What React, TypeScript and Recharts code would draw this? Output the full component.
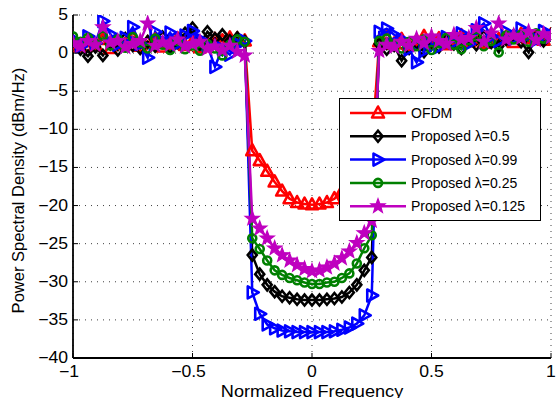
import React from 'react';
import { LineChart, Line, XAxis, YAxis, CartesianGrid } from 'recharts';

const FONT = '"Liberation Sans", Arial, Helvetica, sans-serif';

const xTicks = [-1, -0.5, 0, 0.5, 1];
const yTicks = [5, 0, -5, -10, -15, -20, -25, -30, -35, -40];

const freq = [
  -1, -0.96875, -0.9375, -0.90625, -0.875, -0.84375, -0.8125, -0.78125,
  -0.75, -0.71875, -0.6875, -0.65625, -0.625, -0.59375, -0.5625, -0.53125,
  -0.5, -0.46875, -0.4375, -0.40625, -0.375, -0.34375, -0.3125, -0.28125,
  -0.25, -0.21875, -0.1875, -0.15625, -0.125, -0.09375, -0.0625, -0.03125,
  0, 0.03125, 0.0625, 0.09375, 0.125, 0.15625, 0.1875, 0.21875, 0.25,
  0.28125, 0.3125, 0.34375, 0.375, 0.40625, 0.4375, 0.46875, 0.5,
  0.53125, 0.5625, 0.59375, 0.625, 0.65625, 0.6875, 0.71875, 0.75,
  0.78125, 0.8125, 0.84375, 0.875, 0.90625, 0.9375, 0.96875, 1,
];

const ofdm = [
  1.2, 0.8, 1.5, 1.0, 1.8, 0.6, 1.3, 1.1, 2.0, 0.9, 1.4, 1.7, 0.8, 1.2, 1.9, 1.0, 1.5, 0.7, 1.3, 1.8, 1.6, 2.0, 1.9, 1.6,
  -12.8, -14.1, -15.5, -16.9, -18.1, -19.1, -19.6, -19.8, -19.9, -19.8, -19.6, -19.1, -18.2, -17.0, -15.6, -14.1, -12.6,
  1.5, 2.0, 1.2, 1.8, 1.0, 1.6, 2.2, 1.4, 1.9, 1.1, 1.7, 2.3, 1.5, 2.0, 1.3, 2.4, 1.8, 2.1, 1.4, 2.5, 1.9, 2.2, 1.7, 2.4,
];

const prop05 = [
  1.6, 0.5, -0.4, 0.8, -0.3, 1.2, 0.4, 1.9, 1.0, 0.6, 1.5, 0.9, 2.1, 0.7, 1.4, 2.6, 3.3, 1.2, 2.8, 1.9, 2.4, 1.6, 2.0, 1.5,
  -26.5, -29.0, -30.4, -31.3, -31.9, -32.1, -32.3, -32.4, -32.4, -32.4, -32.3, -32.2, -32.0, -31.4, -30.4, -28.5, -26.8,
  1.2, 0.5, 1.0, -1.0, 0.6, 1.3, 0.2, 1.5, 0.8, 1.7, 1.2, 0.6, 1.9, 1.1, 2.2, 1.4, 0.9, 1.8, 2.3, 1.5, 0.1, 2.0, 1.6, 2.4,
];

const prop099 = [
  1.8, 0.9, 2.2, 1.3, 4.2, 2.5, 1.1, 2.0, 3.4, 1.2, -0.6, 2.8, 1.5, 2.7, 1.2, 2.3, 2.9, 1.8, 1.0, -1.8, 0.6, -0.2, 1.2, 1.6,
  -31.4, -34.2, -35.6, -36.1, -36.4, -36.5, -36.6, -36.6, -36.6, -36.6, -36.6, -36.5, -36.3, -36.0, -35.5, -34.4, -31.8,
  2.8, 3.2, 2.4, 1.8, 0.5, -1.2, 0.3, 1.5, 0.8, 2.1, 1.4, 2.6, 1.2, 3.0, 3.9, 2.2, 1.6, 2.8, 1.9, 3.2, 2.4, 1.7, 2.9, 2.2,
];

const prop025 = [
  2.2, 1.5, 2.0, 1.2, 2.3, 1.0, 1.8, 0.7, 2.1, 1.4, 0.6, 1.9, 1.1, 0.4, 1.6, 0.5, 1.0, 0.3, 1.2, 0.6, -0.3, 1.1, 1.8, 1.5,
  -24.3, -25.7, -27.2, -28.5, -29.1, -29.5, -29.8, -30.1, -30.3, -30.3, -30.1, -30.0, -29.5, -28.9, -27.6, -25.6, -23.9,
  1.6, 1.9, 1.2, 0.6, 1.5, 0.9, 1.8, 0.4, 1.3, 2.0, 1.1, 0.5, 1.7, 2.2, 0.9, 1.6, 0.1, 2.3, 1.8, 2.4, 1.5, 2.6, 1.9, 2.2,
];

const prop0125 = [
  1.3, 0.9, 1.6, 1.1, 3.4, 1.4, 1.6, 0.8, 1.2, 1.6, 3.9, 1.0, 1.4, 1.1, 1.8, 0.9, 1.2, 1.5, 0.6, 0.9, 0.4, 1.0, 0.2, -0.3,
  -21.7, -23.0, -24.3, -25.6, -26.5, -27.2, -27.8, -28.3, -28.6, -28.5, -28.1, -27.6, -26.9, -26.0, -24.9, -23.6, -22.0,
  0.3, 1.1, 0.8, 1.5, 1.0, 1.9, 1.3, 2.2, 1.6, 1.2, 2.4, 1.8, 2.0, 3.3, 1.5, 2.6, 3.9, 1.8, 2.3, 2.0, 2.8, 1.7, 2.5, 2.1,
];

const rows = freq.map((f, i) => ({
  f,
  ofdm: ofdm[i],
  p05: prop05[i],
  p099: prop099[i],
  p025: prop025[i],
  p0125: prop0125[i],
}));

type MarkerKind = 'tri' | 'diamond' | 'right' | 'circle' | 'star';

const MSW = 2.6;

const Marker = ({ kind, cx, cy, color }: { kind: MarkerKind; cx: number; cy: number; color: string }) => {
  if (kind === 'tri') {
    return <polygon points={`${cx},${cy - 6.5} ${cx + 6},${cy + 4.5} ${cx - 6},${cy + 4.5}`} fill="none" stroke={color} strokeWidth={MSW} strokeLinejoin="round" />;
  }
  if (kind === 'diamond') {
    return <polygon points={`${cx},${cy - 5.5} ${cx + 4.5},${cy} ${cx},${cy + 5.5} ${cx - 4.5},${cy}`} fill="none" stroke={color} strokeWidth={MSW} />;
  }
  if (kind === 'right') {
    return <polygon points={`${cx + 6.5},${cy} ${cx - 4.5},${cy - 6} ${cx - 4.5},${cy + 6}`} fill="none" stroke={color} strokeWidth={MSW} strokeLinejoin="round" />;
  }
  if (kind === 'circle') {
    return <circle cx={cx} cy={cy} r={4} fill="none" stroke={color} strokeWidth={MSW} />;
  }
  const pts: string[] = [];
  for (let k = 0; k < 10; k++) {
    const r = k % 2 === 0 ? 7.5 : 3.1;
    const a = -Math.PI / 2 + (k * Math.PI) / 5;
    pts.push(`${cx + r * Math.cos(a)},${cy + r * Math.sin(a)}`);
  }
  return <polygon points={pts.join(' ')} fill={color} stroke={color} strokeWidth={1.2} />;
};

const series: { key: string; name: string; color: string; kind: MarkerKind }[] = [
  { key: 'ofdm', name: 'OFDM', color: '#ff0000', kind: 'tri' },
  { key: 'p05', name: 'Proposed λ=0.5', color: '#000000', kind: 'diamond' },
  { key: 'p099', name: 'Proposed λ=0.99', color: '#0000ff', kind: 'right' },
  { key: 'p025', name: 'Proposed λ=0.25', color: '#008000', kind: 'circle' },
  { key: 'p0125', name: 'Proposed λ=0.125', color: '#bf00bf', kind: 'star' },
];

const fmt = (v: number) => (v < 0 ? '\u2212' + String(Math.abs(v)) : String(v));

const TICK_LEN = 5;
const SX = 1.1;

const BottomTick = (props: any) => {
  const { x, y, payload } = props;
  const v = payload.value;
  const tx = x + (v < 0 ? -4 : 0);
  return (
    <g>
      <line x1={x} x2={x} y1={y} y2={y - TICK_LEN} stroke="#000" strokeWidth={1} />
      <text transform={`translate(${tx} ${y + 19}) scale(${SX} 1)`} x={0} y={0} textAnchor="middle" fontSize={16} fontFamily={FONT} fill="#000">
        {fmt(v)}
      </text>
    </g>
  );
};

const TopTick = (props: any) => {
  const { x, y } = props;
  return <line x1={x} x2={x} y1={y} y2={y + TICK_LEN} stroke="#000" strokeWidth={1} />;
};

const LeftTick = (props: any) => {
  const { x, y, payload } = props;
  return (
    <g>
      <line x1={x} x2={x + TICK_LEN} y1={y} y2={y} stroke="#000" strokeWidth={1} />
      <text transform={`translate(${x - 5} ${y + 5}) scale(${SX} 1)`} x={0} y={0} textAnchor="end" fontSize={16} fontFamily={FONT} fill="#000">
        {fmt(payload.value)}
      </text>
    </g>
  );
};

const RightTick = (props: any) => {
  const { x, y } = props;
  return <line x1={x} x2={x - TICK_LEN} y1={y} y2={y} stroke="#000" strokeWidth={1} />;
};

const XLabel = (props: any) => {
  const vb = props.viewBox;
  const cx = vb.x + vb.width / 2;
  const by = vb.y + vb.height - 1;
  return (
    <text transform={`translate(${cx} ${by}) scale(${SX} 1)`} x={0} y={0} textAnchor="middle" fontSize={16.5} fontFamily={FONT} fill="#000">
      Normalized Frequency
    </text>
  );
};

const YLabel = (props: any) => {
  const vb = props.viewBox;
  const cx = vb.x + 24;
  const cy = vb.y + vb.height / 2 + 4;
  return (
    <text transform={`rotate(-90 ${cx} ${cy})`} x={cx} y={cy} textAnchor="middle" fontSize={16.5} fontFamily={FONT} fill="#000">
      Power Spectral Density (dBm/Hz)
    </text>
  );
};

const axisLine = { stroke: '#000', strokeWidth: 1.8 };

const LegendBox = () => (
  <div
    style={{
      position: 'absolute',
      left: 339,
      top: 98,
      width: 202,
      height: 123,
      boxSizing: 'border-box',
      border: '1.5px solid #000',
      background: '#fff',
    }}
  >
    <svg width={199} height={120} style={{ display: 'block' }}>
      {series.map((s, i) => {
        const cy = 14 + i * 23.3;
        return (
          <g key={s.key}>
            <line x1={10} x2={66} y1={cy} y2={cy} stroke={s.color} strokeWidth={2.5} />
            <Marker kind={s.kind} cx={38} cy={cy} color={s.color} />
            <text x={71} y={cy + 5} fontSize={14} fontFamily={FONT} fill="#000">
              {s.name}
            </text>
          </g>
        );
      })}
    </svg>
  </div>
);

export default function App() {
  return (
    <div style={{ position: 'absolute', left: 0, top: 0, width: 556, height: 398, background: '#fff', overflow: 'hidden' }}>
      <LineChart width={556} height={398} data={rows} margin={{ top: 15, right: 5, bottom: 0, left: 0 }}>
        <CartesianGrid stroke="#000" strokeOpacity={0.75} strokeDasharray="1 5" />
        <XAxis
          dataKey="f"
          type="number"
          domain={[-1, 1]}
          ticks={xTicks}
          interval={0}
          height={40}
          tickSize={0}
          tickMargin={0}
          tickLine={false}
          axisLine={axisLine}
          tick={BottomTick}
          allowDataOverflow
          label={XLabel}
        />
        <XAxis
          xAxisId="top"
          orientation="top"
          dataKey="f"
          type="number"
          domain={[-1, 1]}
          ticks={xTicks}
          interval={0}
          height={0}
          tickSize={0}
          tickMargin={0}
          tickLine={false}
          axisLine={axisLine}
          tick={TopTick}
          allowDataOverflow
        />
        <YAxis
          type="number"
          domain={[-40, 5]}
          ticks={yTicks}
          interval={0}
          width={73}
          tickSize={0}
          tickMargin={0}
          tickLine={false}
          axisLine={axisLine}
          tick={LeftTick}
          allowDataOverflow
          label={YLabel}
        />
        <YAxis
          yAxisId="right"
          orientation="right"
          type="number"
          domain={[-40, 5]}
          ticks={yTicks}
          interval={0}
          width={0}
          tickSize={0}
          tickMargin={0}
          tickLine={false}
          axisLine={axisLine}
          tick={RightTick}
          allowDataOverflow
        />
        {series.map((s) => (
          <Line
            key={s.key}
            dataKey={s.key}
            type="linear"
            stroke={s.color}
            strokeWidth={2.5}
            isAnimationActive={false}
            activeDot={false}
            dot={(p: any) => (
              <Marker key={`${s.key}-${p.index}`} kind={s.kind} cx={p.cx} cy={p.cy} color={s.color} />
            )}
          />
        ))}
      </LineChart>
      <LegendBox />
    </div>
  );
}
